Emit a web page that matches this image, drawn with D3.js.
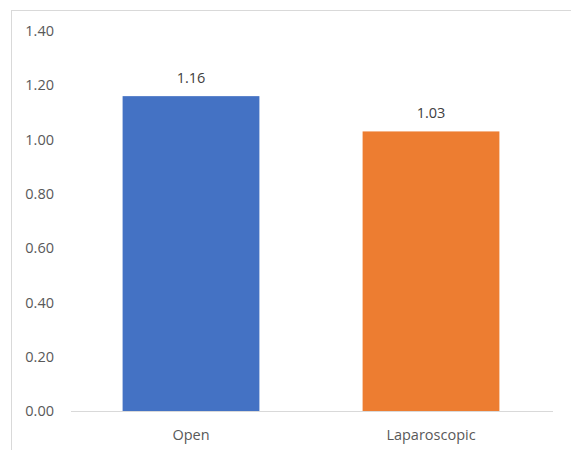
<!DOCTYPE html>
<html><head><meta charset="utf-8">
<script src="https://cdn.jsdelivr.net/npm/d3@7"></script>
<style>body{margin:0;background:#fff}svg{display:block}text{font-family:"Open Sans","Liberation Sans",Arial,sans-serif}</style>
</head><body><svg id="c" width="571" height="450"></svg>
<script>
const categories = ["Open", "Laparoscopic"];
const values = [1.16, 1.03];
const labels = ["1.16", "1.03"];
const colors = ["#4472C4", "#ED7D31"];
const yTicks = [0, 0.2, 0.4, 0.6, 0.8, 1.0, 1.2, 1.4];

const svg = d3.select("#c");
const plotLeft = 71, plotRight = 551, plotTop = 31, plotBottom = 411;

svg.append("rect").attr("x", 11.5).attr("y", 10.5).attr("width", 600).attr("height", 500)
  .attr("fill", "none").attr("stroke", "#d9d9d9");

const x = d3.scaleBand().domain(categories).range([plotLeft, plotRight]).paddingInner(0.43).paddingOuter(0.215);
const y = d3.scaleLinear().domain([0, 1.4]).range([plotBottom, plotTop]);

const yAxis = svg.append("g").attr("transform", `translate(${plotLeft},0)`)
  .call(d3.axisLeft(y).tickValues(yTicks).tickFormat(d3.format(".2f")).tickSize(0).tickPadding(17));
yAxis.select(".domain").remove();
yAxis.selectAll("text").attr("fill", "#595959").attr("font-size", 14.5);

svg.selectAll("rect.bar").data(values).enter().append("rect").attr("class", "bar")
  .attr("x", (d, i) => x(categories[i])).attr("width", x.bandwidth())
  .attr("y", d => y(d)).attr("height", d => y(0) - y(d))
  .attr("fill", (d, i) => colors[i]);

svg.append("line").attr("x1", plotLeft).attr("x2", 553).attr("y1", y(0) + 0.5).attr("y2", y(0) + 0.5)
  .attr("stroke", "#d9d9d9").attr("stroke-width", 1);

svg.selectAll("text.val").data(values).enter().append("text").attr("class", "val")
  .attr("x", (d, i) => x(categories[i]) + x.bandwidth() / 2).attr("y", d => y(d) - 13)
  .attr("text-anchor", "middle").attr("fill", "#404040").attr("font-size", 14.5)
  .text((d, i) => labels[i]);

const xAxis = svg.append("g").attr("transform", `translate(0,${plotBottom})`)
  .call(d3.axisBottom(x).tickSize(0).tickPadding(19));
xAxis.select(".domain").remove();
xAxis.selectAll("text").attr("fill", "#595959").attr("font-size", 14.5);
</script></body></html>
